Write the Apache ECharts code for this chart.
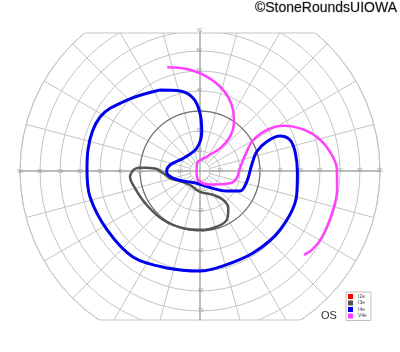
<!DOCTYPE html>
<html><head><meta charset="utf-8">
<script src="https://cdn.jsdelivr.net/npm/echarts@6/dist/echarts.min.js"></script>
<style>html,body{margin:0;padding:0;background:#fff}#c{width:400px;height:352px}</style>
</head><body><div id="c"></div>
<script>
// ---- data: isopters as [eccentricity (deg), meridian (deg, counter-clockwise from right)] ----
const isopterNames = ['I2e', 'I3e', 'I4e', 'V4e'];
const I2e = [];
const I3e = [
  [33.4,179.1],[30.9,176.9],[26.7,176.5],[21.7,177.4],[18.4,183.6],[15.4,193.7],[11.2,206.6],
  [8.6,234.5],[10.4,270],[13.7,299],[18.6,308.8],[23.4,307.2],[27.9,298.6],[29.1,286.7],
  [29.5,273.2],[29.8,253.8],[30.6,233.2],[31.6,212.5],[33.6,194.9],[35.1,184.7],[33.4,179.1]
];
const I4e = [
  [45.2,116.3],[41.2,104],[36.5,95.3],[28.9,90],[19.7,87.5],[11.5,98.3],[10.5,142.7],[15.3,168.7],
  [16.7,181.2],[13.8,195.3],[8.5,218.8],[6.3,255],[8.5,293.1],[16.7,323.2],[22.4,333.4],[24,347.1],
  [26,6.6],[29.9,18.8],[36.4,23.7],[43.7,23.6],[47.6,19],[48.5,11.5],[48.7,359.6],[49.8,346.1],
  [49.7,323.6],[48.8,302.9],[49,281.8],[50,270],[51.2,251.2],[54.5,232],[55,212.4],[56.5,193.3],
  [56.5,179.5],[57,169.4],[56.8,151.6],[50.9,135.8],[45.2,116.3]
];
const V4e = [
  [54.4,107.5],[51.4,97.4],[47.3,85.9],[42.1,73.9],[36.6,64.3],[29.9,55.4],[22.8,48.8],[15.1,48.6],
  [7.9,64.9],[3.9,113],[1.8,200],[4.8,262],[8.3,305],[16.2,337.7],[18.7,348.8],[20,3.9],[25.3,22.5],
  [30.8,30.2],[39.1,31.6],[47.4,28.5],[54.4,23.1],[60.8,16.4],[65.7,8.4],[68.4,1.1],[69.2,352.1],
  [69.3,342.4],[69.4,331.6],[68.5,324.8],[66.8,321.1]
];
// axis extents (degrees)
const fieldMax = 90;       // nasal / temporal extent
const superiorMax = 70;    // superior label extent
const superiorClip = 69;   // chart clipped above
const inferiorClip = 74.5; // chart clipped below
const innerRing = 5;
const darkRing = 30;
const ringStep = 10;
const meridianStep = 15;

// ---- layout / style ----
const CX = 200, CY = 171, PX = 2;
const GRID = '#c4c4c4', AXIS = '#b0b0b0', LABEL = '#a0a0a0';
const colors = { I2e: '#ff0000', I3e: '#555555', I4e: '#0000ee', V4e: '#ff40ff' };
const widths = { I2e: 2.5, I3e: 2.5, I4e: 3, V4e: 2.5 };

const center = [CX, CY];
function ringData(r) { const d = []; for (let a = 0; a <= 360; a += 3) d.push([r, a]); return d; }
const tA = Math.asin(superiorClip / fieldMax) * 180 / Math.PI;
const bA = Math.asin(inferiorClip / fieldMax) * 180 / Math.PI;
const topChord = [[fieldMax, tA], [fieldMax, 180 - tA]];
const bottomChord = [[fieldMax, 180 + bA], [fieldMax, 360 - bA]];

function labelAxis(idx, max, hideMax) {
  return {
    polarIndex: idx, type: 'value', min: 0, max: max, interval: ringStep, z: 3,
    axisLine: { show: true, lineStyle: { color: AXIS, width: 1.5 } },
    axisTick: { show: false }, splitLine: { show: false },
    axisLabel: { show: true, fontSize: 5, color: LABEL, margin: -2, showMinLabel: false, showMaxLabel: !hideMax, fontFamily: 'Liberation Sans' }
  };
}
function hiddenAngle(idx, start) {
  return { polarIndex: idx, type: 'value', min: 0, max: 360, startAngle: start, clockwise: false, show: false };
}

const dataSets = { I2e, I3e, I4e, V4e };
const isopterSeries = isopterNames.map(n => ({
  name: n, type: 'line', coordinateSystem: 'polar', polarIndex: 1, data: dataSets[n],
  smooth: 0.35, symbol: 'none', color: colors[n],
  lineStyle: { color: colors[n], width: widths[n] }, z: 5, silent: true
}));

const chart = echarts.init(document.getElementById('c'), null, { renderer: 'canvas' });
chart.setOption({
  animation: false,
  backgroundColor: '#fff',
  title: [
    { text: '©StoneRoundsUIOWA', right: 2, top: 1, padding: 0, z: 10,
      textStyle: { fontSize: 14, fontWeight: 'normal', color: '#111', fontFamily: 'Liberation Sans', textBorderColor: '#d0d0d0', textBorderWidth: 1 } },
    { text: 'OS', left: 321, top: 310, padding: 0, z: 10,
      textStyle: { fontSize: 11, fontWeight: 'normal', color: '#333', fontFamily: 'Liberation Sans' } }
  ],
  legend: {
    data: isopterNames, orient: 'vertical', left: 346, top: 292, icon: 'rect',
    itemWidth: 5, itemHeight: 5, itemGap: 1.5, padding: [2, 4, 2, 2],
    borderColor: '#c0c0c0', borderWidth: 1, backgroundColor: '#fff', selectedMode: false, z: 10,
    textStyle: { fontSize: 5, color: '#444', fontFamily: 'Liberation Sans' }
  },
  polar: [
    { center, radius: [innerRing * PX, fieldMax * PX] },
    { center, radius: fieldMax * PX },
    { center, radius: fieldMax * PX },
    { center, radius: superiorMax * PX },
    { center, radius: fieldMax * PX },
    { center, radius: inferiorClip * PX }
  ],
  angleAxis: [
    { polarIndex: 0, type: 'value', min: 0, max: 360, interval: meridianStep, startAngle: 0, clockwise: false, z: 0,
      axisLine: { show: true, lineStyle: { color: GRID, width: 1 } }, axisTick: { show: false }, axisLabel: { show: false },
      splitLine: { show: true, lineStyle: { color: GRID, width: 1 } } },
    hiddenAngle(1, 0), hiddenAngle(2, 0), hiddenAngle(3, 90), hiddenAngle(4, 180), hiddenAngle(5, 270)
  ],
  radiusAxis: [
    { polarIndex: 0, type: 'value', min: innerRing, max: fieldMax, show: false },
    { polarIndex: 1, type: 'value', min: 0, max: fieldMax, interval: ringStep, z: 0,
      axisLine: { show: false }, axisTick: { show: false }, axisLabel: { show: false },
      splitLine: { show: true, lineStyle: { color: GRID, width: 1 } } },
    labelAxis(2, fieldMax, false), labelAxis(3, superiorMax, false),
    labelAxis(4, fieldMax, false), labelAxis(5, inferiorClip, true)
  ],
  graphic: [
    { type: 'rect', z: 1, silent: true, shape: { x: 0, y: 0, width: 400, height: CY - superiorClip * PX }, style: { fill: '#fff' } },
    { type: 'rect', z: 1, silent: true, shape: { x: 0, y: CY + inferiorClip * PX, width: 400, height: 80 }, style: { fill: '#fff' } }
  ],
  series: [
    { type: 'line', coordinateSystem: 'polar', polarIndex: 1, data: ringData(darkRing), symbol: 'none', silent: true,
      lineStyle: { color: '#707070', width: 1.2 }, z: 2 },
    { type: 'line', coordinateSystem: 'polar', polarIndex: 1, data: topChord, symbol: 'none', silent: true,
      lineStyle: { color: GRID, width: 1 }, z: 2 },
    { type: 'line', coordinateSystem: 'polar', polarIndex: 1, data: bottomChord, symbol: 'none', silent: true,
      lineStyle: { color: GRID, width: 1 }, z: 2 }
  ].concat(isopterSeries)
});
</script></body></html>
